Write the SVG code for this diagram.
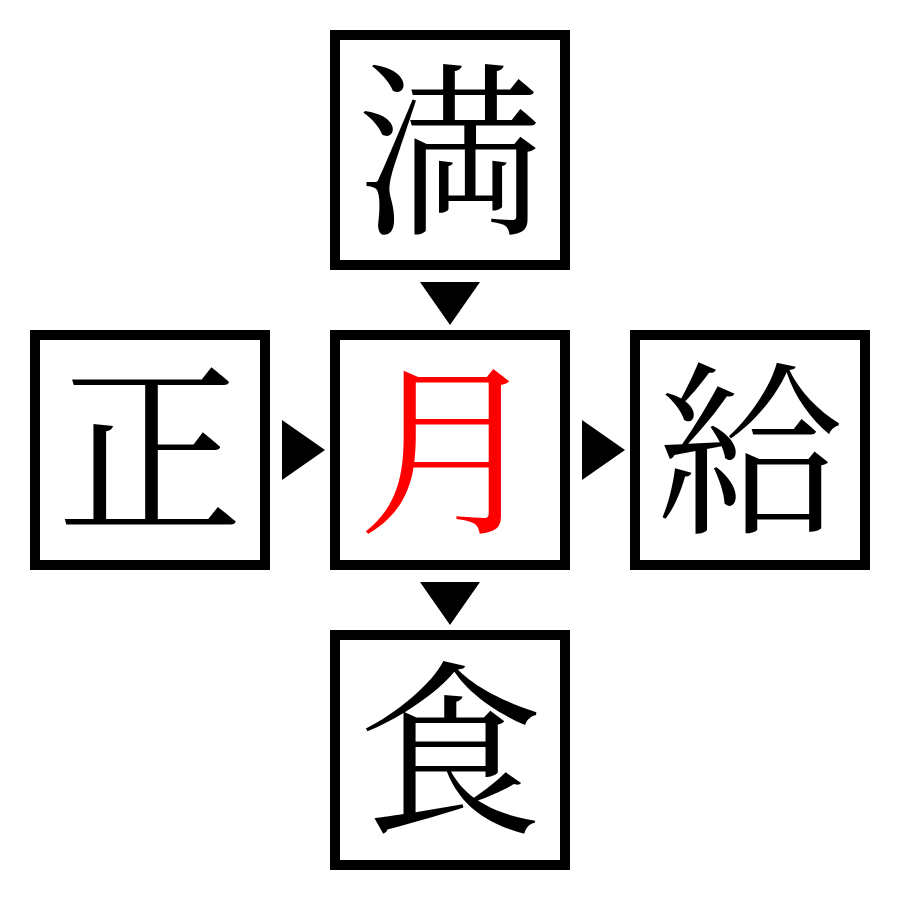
<svg xmlns="http://www.w3.org/2000/svg" width="900" height="900" viewBox="0 0 900 900">
<style>
.box{fill:#fff;stroke:#000;stroke-width:10}
.ch{font-family:"Noto Serif CJK JP","Noto Sans CJK JP",serif;font-size:186px;text-anchor:middle;fill:#000}
.hl{fill:#ff0000}
.arr{fill:#000}
</style>
<rect width="900" height="900" fill="#fff"/>
<g id="connectors">
<polygon class="arr" points="420,282 480,282 450,325"/>
<polygon class="arr" points="420,582 480,582 450,625"/>
<polygon class="arr" points="282,420 282,480 325,450"/>
<polygon class="arr" points="582,420 582,480 625,450"/>
</g>
<g id="node-top"><rect class="box" x="335" y="35" width="230" height="230"/><text class="ch" x="450" y="220">満</text></g>
<g id="node-left"><rect class="box" x="35" y="335" width="230" height="230"/><text class="ch" x="150" y="519">正</text></g>
<g id="node-center"><rect class="box" x="335" y="335" width="230" height="230"/><text class="ch hl" x="450" y="519">月</text></g>
<g id="node-right"><rect class="box" x="635" y="335" width="230" height="230"/><text class="ch" x="750" y="519">給</text></g>
<g id="node-bottom"><rect class="box" x="335" y="635" width="230" height="230"/><text class="ch" x="450" y="819">食</text></g>
</svg>
